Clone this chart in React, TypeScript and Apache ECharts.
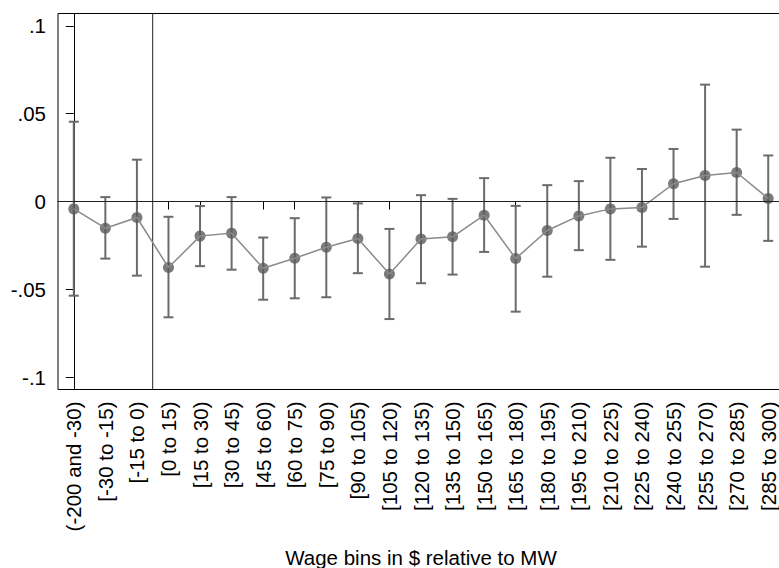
import React, { useEffect, useRef } from "react";
import * as echarts from "echarts";

const categories = [
  "(-200 and -30)", "[-30 to -15)", "[-15 to 0)", "[0 to 15)", "[15 to 30)", "[30 to 45)",
  "[45 to 60)", "[60 to 75)", "[75 to 90)", "[90 to 105)", "[105 to 120)", "[120 to 135)",
  "[135 to 150)", "[150 to 165)", "[165 to 180)", "[180 to 195)", "[195 to 210)", "[210 to 225)",
  "[225 to 240)", "[240 to 255)", "[255 to 270)", "[270 to 285)", "[285 to 300)",
];
const estimates = [
  -0.0042, -0.0152, -0.0091, -0.0376, -0.0197, -0.018, -0.038, -0.0323, -0.026, -0.0211,
  -0.0412, -0.0214, -0.0201, -0.0078, -0.0325, -0.0165, -0.0082, -0.0042, -0.0034, 0.0101,
  0.0148, 0.0165, 0.0017,
];
const ciLower = [
  -0.0536, -0.0325, -0.0422, -0.0659, -0.0368, -0.0388, -0.0559, -0.0551, -0.0545, -0.0408,
  -0.0669, -0.0465, -0.0416, -0.0287, -0.0627, -0.0428, -0.0277, -0.0332, -0.0257, -0.0099,
  -0.0371, -0.0076, -0.0224,
];
const ciUpper = [
  0.0454, 0.0025, 0.0238, -0.0087, -0.0026, 0.0025, -0.0205, -0.0095, 0.0023, -0.0011,
  -0.0156, 0.0036, 0.0015, 0.0133, -0.0025, 0.0093, 0.0116, 0.0249, 0.0185, 0.0299,
  0.0665, 0.0409, 0.0262,
];
const yTickValues = [-0.1, -0.05, 0, 0.05, 0.1];
const yTickLabels = ["-.1", "-.05", "0", ".05", ".1"];
const cutoffPosition = 2.5;
const xAxisTitle = "Wage bins in $ relative to MW";

const FONT = "'Liberation Sans', Arial, Helvetica, sans-serif";
const FS = 20.5;

export default function App() {
  const ref = useRef<HTMLDivElement>(null);
  useEffect(() => {
    if (!ref.current) return;
    const chart = echarts.init(ref.current, undefined, { renderer: "svg" });
    const barColor = "#6b6b6b";
    chart.setOption({
      animation: false,
      backgroundColor: "#ffffff",
      textStyle: { fontFamily: FONT },
      grid: {
        left: 58,
        right: 0,
        top: 13.5,
        bottom: 178.5,
        show: true,
        borderColor: "#000",
        borderWidth: 1,
        backgroundColor: "transparent",
        containLabel: false,
        outerBoundsMode: "none",
      },
      xAxis: [
        {
          type: "category",
          data: categories,
          boundaryGap: true,
          axisLine: { show: true, lineStyle: { color: "#000", width: 1 } },
          axisTick: { show: true, alignWithLabel: true, length: 8, lineStyle: { color: "#000", width: 1 } },
          axisLabel: {
            rotate: 90,
            interval: 0,
            margin: 12,
            fontSize: FS,
            color: "#000",
            fontFamily: FONT,
          },
          splitLine: { show: false },
          name: xAxisTitle,
          nameLocation: "middle",
          nameGap: 157,
          nameTextStyle: { fontSize: FS, color: "#000", fontFamily: FONT },
        },
        {
          type: "value",
          min: -0.5,
          max: 22.5,
          show: false,
        },
      ],
      yAxis: {
        type: "value",
        min: -0.107,
        max: 0.107,
        axisLine: { show: true, lineStyle: { color: "#000", width: 1 } },
        axisTick: { show: true, length: 8, customValues: yTickValues, lineStyle: { color: "#000", width: 1 } },
        axisLabel: {
          customValues: yTickValues,
          margin: 12,
          fontSize: FS,
          color: "#000",
          fontFamily: FONT,
          formatter: (v: number) => {
            const i = yTickValues.findIndex((t) => Math.abs(t - v) < 1e-9);
            return i >= 0 ? yTickLabels[i] : "";
          },
        },
        splitLine: { show: false },
      },
      series: [
        {
          type: "custom",
          xAxisIndex: 1,
          yAxisIndex: 0,
          z: 1,
          silent: true,
          data: [[cutoffPosition, 0]],
          encode: { x: 0, y: 1 },
          renderItem: (params: any, api: any) => {
            const p = api.coord([api.value(0), api.value(1)]);
            const cs = params.coordSys;
            return {
              type: "line",
              shape: { x1: p[0], y1: cs.y, x2: p[0], y2: cs.y + cs.height },
              style: { stroke: "#222", lineWidth: 1 },
            };
          },
        },
        {
          type: "custom",
          z: 2,
          silent: true,
          data: categories.map((_, i) => [i, ciLower[i], ciUpper[i]]),
          encode: { x: 0, y: [1, 2] },
          renderItem: (_params: any, api: any) => {
            const x = api.value(0);
            const lo = api.coord([x, api.value(1)]);
            const hi = api.coord([x, api.value(2)]);
            const cap = 5;
            const style = { stroke: barColor, lineWidth: 2 };
            return {
              type: "group",
              children: [
                { type: "line", shape: { x1: lo[0], y1: lo[1], x2: hi[0], y2: hi[1] }, style },
                { type: "line", shape: { x1: hi[0] - cap, y1: hi[1], x2: hi[0] + cap, y2: hi[1] }, style },
                { type: "line", shape: { x1: lo[0] - cap, y1: lo[1], x2: lo[0] + cap, y2: lo[1] }, style },
              ],
            };
          },
        },
        {
          type: "scatter",
          data: estimates,
          z: 3,
          symbol: "circle",
          symbolSize: 11,
          itemStyle: { color: "#5a5a5a" },
          silent: true,
          markLine: {
            silent: true,
            symbol: "none",
            label: { show: false },
            lineStyle: { color: "#222", width: 1, type: "solid" },
            data: [{ yAxis: 0 }],
          },
        },
        {
          type: "line",
          data: estimates,
          z: 4,
          showSymbol: false,
          symbol: "none",
          lineStyle: { color: "#8a8a8a", width: 1.5 },
          silent: true,
        },
      ],
    });
    return () => chart.dispose();
  }, []);
  return (
    <div
      ref={ref}
      style={{ position: "fixed", left: 0, top: 0, width: 784, height: 568, background: "#fff" }}
    />
  );
}
